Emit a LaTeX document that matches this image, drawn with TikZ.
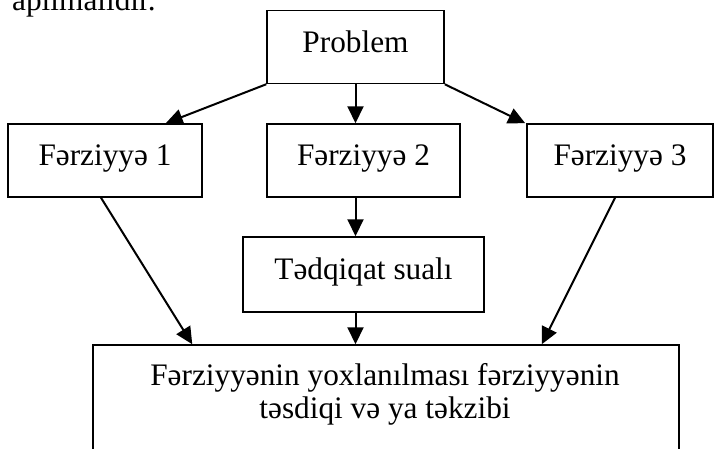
\documentclass[tikz,border=0pt]{standalone}
\usepackage{fontspec}
\setmainfont{Liberation Serif}
\usetikzlibrary{arrows.meta}
\begin{document}
\begin{tikzpicture}[x=1pt, y=-1pt,
        txt/.style={font=\fontsize{31.3pt}{32.5pt}\selectfont},
        box/.style={rectangle, draw=black, line width=1.5pt, minimum height=73pt, inner sep=0pt, txt, text height=21.3pt, text depth=10.6pt},
        link/.style={line width=2pt, -{Triangle[length=17pt, width=16pt]}}
    ]
        \useasboundingbox (0,0) rectangle (714,448);
        \clip (0,0) rectangle (714,448);

        % Page text above the scheme
        \node[txt, anchor=base west, inner sep=0pt] (pagetext) at (12,10) {apılmalıdır.};

        % Problem
        \node[box, minimum width=177pt] (problem) at (355.5,47) {Problem};

        % Hypotheses
        \node[box, minimum width=194pt] (f1) at (105,160.5) {Fərziyyə 1};
        \node[box, minimum width=193pt] (f2) at (363.5,160.5) {Fərziyyə 2};
        \node[box, minimum width=186pt] (f3) at (620,160.5) {Fərziyyə 3};

        % Research question
        \node[box, minimum width=241pt, minimum height=75pt] (tq) at (363.5,274.5) {Tədqiqat sualı};

        % Testing
        \node[rectangle, draw=black, line width=1.5pt, minimum width=586pt, minimum height=135pt] (final) at (386,412.5) {};
        \node[txt, align=center, inner sep=0pt] (finaltext) at (385,394.5) {Fərziyyənin yoxlanılması fərziyyənin\\təsdiqi və ya təkzibi};

        % Connections
        \draw[link] (problem.south west) -- ([xshift=-37pt]f1.north east);
        \draw[link] (problem.south) -- (problem.south |- f2.north);
        \draw[link] (problem.south east) -- ([xshift=-1pt]f3.north west);
        \draw[link] ([xshift=-4pt]f1.south) -- ([xshift=100pt]final.north west);
        \draw[link] (f2.south -| problem.south) -- (tq.north -| problem.south);
        \draw[link] (tq.south -| problem.south) -- (final.north -| problem.south);
        \draw[link] ([xshift=-5pt]f3.south) -- ([xshift=-138pt]final.north east);
    \end{tikzpicture}
\end{document}
